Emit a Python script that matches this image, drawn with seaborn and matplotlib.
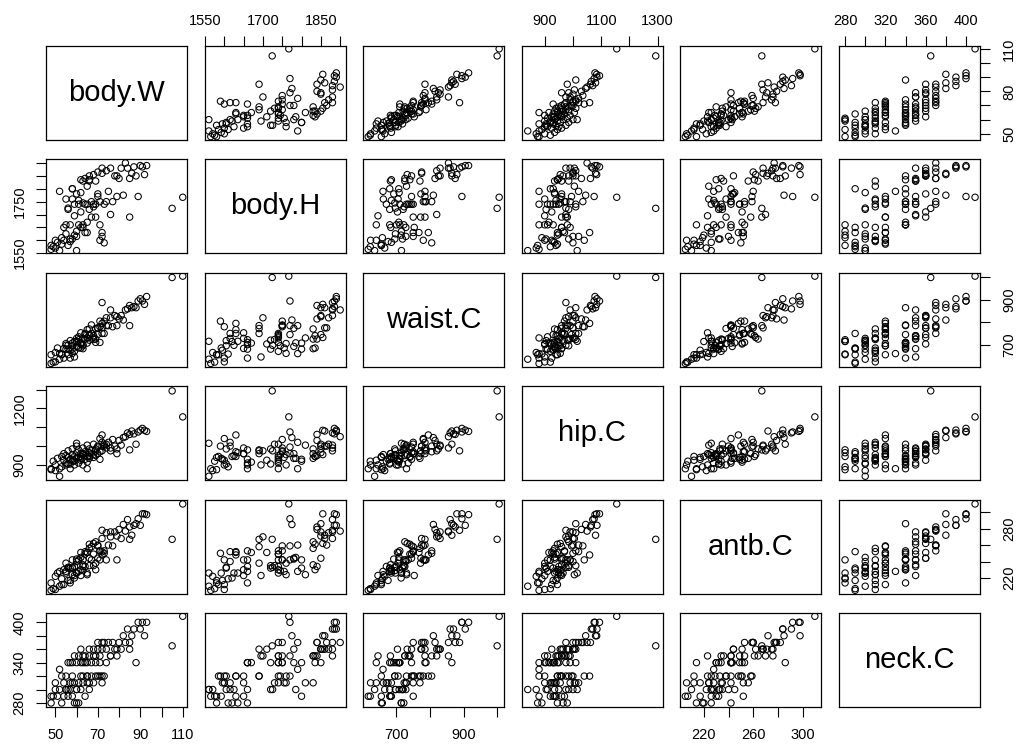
import matplotlib
matplotlib.use("Agg")
import matplotlib.pyplot as plt
import pandas as pd
import seaborn as sns

body_W = [48, 48, 49, 50, 50, 51, 52, 53, 53, 54,
          54, 55, 55, 56, 56, 57, 57, 58, 58, 59,
          59, 60, 60, 61, 61, 62, 62, 63, 63, 64,
          65, 65, 66, 67, 68, 69, 70, 71, 72, 72,
          73, 52, 55, 58, 60, 66, 56, 57, 58, 59,
          60, 61, 62, 62, 63, 64, 64, 65, 66, 66,
          67, 68, 68, 69, 70, 70, 71, 72, 72, 73,
          74, 75, 76, 77, 78, 79, 80, 81, 82, 83,
          84, 85, 86, 87, 88, 89, 90, 91, 92, 93,
          74, 76, 65, 71, 79, 85, 63, 69, 110, 105]
body_H = [1565, 1580, 1575, 1570, 1600, 1592, 1560, 1610, 1585, 1650,
          1600, 1660, 1625, 1580, 1725, 1595, 1605, 1760, 1605, 1620,
          1740, 1635, 1615, 1755, 1660, 1650, 1785, 1650, 1745, 1630,
          1810, 1630, 1720, 1690, 1730, 1690, 1770, 1600, 1615, 1630,
          1590, 1790, 1760, 1800, 1560, 1830, 1720, 1660, 1800, 1695,
          1780, 1740, 1835, 1710, 1830, 1740, 1840, 1670, 1850, 1835,
          1750, 1855, 1740, 1830, 1780, 1865, 1750, 1860, 1880, 1740,
          1870, 1790, 1880, 1750, 1850, 1850, 1840, 1880, 1775, 1900,
          1880, 1840, 1860, 1885, 1850, 1770, 1890, 1885, 1855, 1890,
          1750, 1700, 1740, 1660, 1770, 1690, 1660, 1740, 1767, 1724]
waist_C = [616, 655, 622, 665, 623, 685, 635, 658, 655, 683,
           640, 680, 697, 655, 697, 675, 718, 661, 695, 714,
           670, 715, 728, 685, 722, 753, 708, 728, 695, 750,
           730, 767, 720, 750, 723, 772, 745, 780, 750, 795,
           805, 660, 705, 680, 715, 770, 680, 640, 707, 645,
           692, 735, 685, 703, 682, 745, 725, 707, 745, 740,
           788, 732, 740, 725, 773, 775, 805, 775, 888, 750,
           820, 785, 855, 780, 830, 825, 815, 830, 810, 855,
           860, 875, 865, 870, 865, 895, 905, 895, 880, 915,
           785, 820, 730, 710, 785, 785, 700, 710, 1006, 1000]
hip_C = [880, 875, 920, 870, 900, 935, 840, 890, 945, 960,
         925, 910, 950, 940, 975, 930, 905, 955, 985, 945,
         920, 965, 1000, 940, 980, 960, 935, 990, 955, 970,
         1005, 945, 985, 960, 1010, 975, 995, 1040, 1020, 1059,
         1000, 880, 900, 930, 1015, 935, 905, 880, 920, 900,
         935, 910, 945, 925, 960, 930, 950, 915, 965, 945,
         975, 955, 940, 985, 960, 1000, 970, 1000, 975, 1010,
         1010, 1020, 990, 1035, 1000, 985, 1030, 1005, 1045, 1050,
         1070, 1062, 1080, 1065, 1010, 1075, 1085, 1094, 1084, 1078,
         990, 975, 880, 930, 960, 980, 900, 950, 1155, 1293]
antb_C = [205, 214, 207, 222, 206, 226, 210, 219, 212, 230,
          212, 228, 226, 217, 233, 217, 232, 224, 233, 220,
          234, 226, 240, 228, 242, 223, 245, 242, 229, 252,
          224, 251, 235, 258, 235, 238, 259, 242, 252, 248,
          250, 228, 238, 232, 226, 256, 232, 214, 242, 223,
          243, 242, 230, 251, 236, 249, 234, 251, 244, 261,
          242, 262, 249, 264, 244, 260, 253, 268, 278, 253,
          275, 260, 276, 259, 276, 271, 279, 268, 285, 277,
          291, 282, 272, 284, 286, 292, 284, 298, 298, 297,
          242, 270, 226, 253, 242, 267, 234, 230, 310, 267]
neck_C = [290, 280, 290, 300, 310, 290, 300, 280, 320, 290,
          310, 300, 300, 290, 300, 310, 300, 310, 320, 280,
          310, 280, 300, 310, 280, 320, 300, 310, 320, 290,
          310, 320, 300, 320, 310, 320, 320, 320, 310, 320,
          320, 330, 320, 290, 300, 310, 340, 340, 340, 350,
          340, 350, 340, 360, 350, 340, 350, 340, 360, 350,
          340, 360, 350, 350, 360, 370, 350, 360, 370, 370,
          360, 370, 350, 370, 360, 360, 370, 360, 380, 370,
          390, 370, 380, 390, 340, 400, 390, 400, 380, 400,
          340, 350, 320, 340, 350, 360, 340, 340, 409, 365]

var_names = ["body.W", "body.H", "waist.C", "hip.C", "antb.C", "neck.C"]

# axis ranges as drawn in the reference (R pads 4% each side)
axis_lims = {
    "body.W": (45.6, 112.0),
    "body.H": (1549, 1914),
    "waist.C": (601, 1021),
    "hip.C": (819, 1318),
    "antb.C": (201, 315.3),
    "neck.C": (274, 413.9),
}
tick_vals = {
    "body.W": [50, 60, 70, 80, 90, 100, 110],
    "body.H": [1550, 1600, 1650, 1700, 1750, 1800, 1850, 1900],
    "waist.C": [700, 800, 900, 1000],
    "hip.C": [900, 1000, 1100, 1200, 1300],
    "antb.C": [220, 240, 260, 280, 300],
    "neck.C": [280, 300, 320, 340, 360, 380, 400],
}
# labels R kept on horizontal (top/bottom) and vertical (left/right) axes
labels_h = {
    "body.W": [50, 70, 90, 110],
    "body.H": [1550, 1700, 1850],
    "waist.C": [700, 900],
    "hip.C": [900, 1100, 1300],
    "antb.C": [220, 260, 300],
    "neck.C": [280, 320, 360, 400],
}
labels_v = {
    "body.W": [50, 80, 110],
    "body.H": [1550, 1750],
    "waist.C": [700, 900],
    "hip.C": [900, 1200],
    "antb.C": [220, 280],
    "neck.C": [280, 340, 400],
}

sns.set_style("white")
plt.rcParams['font.family'] = ['Liberation Sans', 'DejaVu Sans']

df = pd.DataFrame({
    "body.W": body_W, "body.H": body_H, "waist.C": waist_C,
    "hip.C": hip_C, "antb.C": antb_C, "neck.C": neck_C,
})

g = sns.PairGrid(df, vars=var_names, despine=False, height=1.5, aspect=1.5)
g.map_offdiag(sns.scatterplot, facecolor="none", edgecolor="black",
              s=21, linewidth=0.75)

fig = g.figure
fig.set_size_inches(10.17, 7.47)
fig.subplots_adjust(left=46 / 1017, right=980 / 1017,
                    bottom=40 / 747, top=701 / 747,
                    wspace=0.125, hspace=0.206)

n = len(var_names)
for i in range(n):
    for j in range(n):
        ax = g.axes[i, j]
        ax.set_xlabel("")
        ax.set_ylabel("")
        for sp in ax.spines.values():
            sp.set_linewidth(0.9)
            sp.set_color("black")
        ax.tick_params(which="both", bottom=False, top=False, left=False,
                       right=False, labelbottom=False, labeltop=False,
                       labelleft=False, labelright=False)
        if i == j:
            ax.text(0.5, 0.5, var_names[i], transform=ax.transAxes,
                    ha="center", va="center", fontsize=21, color="black")

# limits + ticks (shared per column / row)
for k, v in enumerate(var_names):
    ax_col = g.axes[0, k]
    ax_col.set_xlim(axis_lims[v])
    ax_col.set_xticks(tick_vals[v])
    ax_col.set_xticklabels([str(t) if t in labels_h[v] else "" for t in tick_vals[v]])
    ax_row = g.axes[k, 0]
    ax_row.set_ylim(axis_lims[v])
    ax_row.set_yticks(tick_vals[v])
    ax_row.set_yticklabels([str(t) if t in labels_v[v] else "" for t in tick_vals[v]])

tick_kw = dict(length=7, width=0.8, direction="out", labelsize=10.5,
               colors="black")
for k in range(n):
    if k % 2 == 0:
        g.axes[n - 1, k].tick_params(axis="x", bottom=True, labelbottom=True,
                                     pad=8, **tick_kw)
        ax = g.axes[k, n - 1]
        ax.tick_params(axis="y", right=True, labelright=True, pad=9,
                       labelrotation=90, **tick_kw)
        for lab in ax.get_yticklabels():
            lab.set_verticalalignment("center")
            lab.set_horizontalalignment("left")
    else:
        g.axes[0, k].tick_params(axis="x", top=True, labeltop=True,
                                 pad=6, **tick_kw)
        ax = g.axes[k, 0]
        ax.tick_params(axis="y", left=True, labelleft=True, pad=7,
                       labelrotation=90, **tick_kw)
        for lab in ax.get_yticklabels():
            lab.set_verticalalignment("center")
            lab.set_horizontalalignment("right")

fig.savefig("out.png", dpi=100)
plt.close()
